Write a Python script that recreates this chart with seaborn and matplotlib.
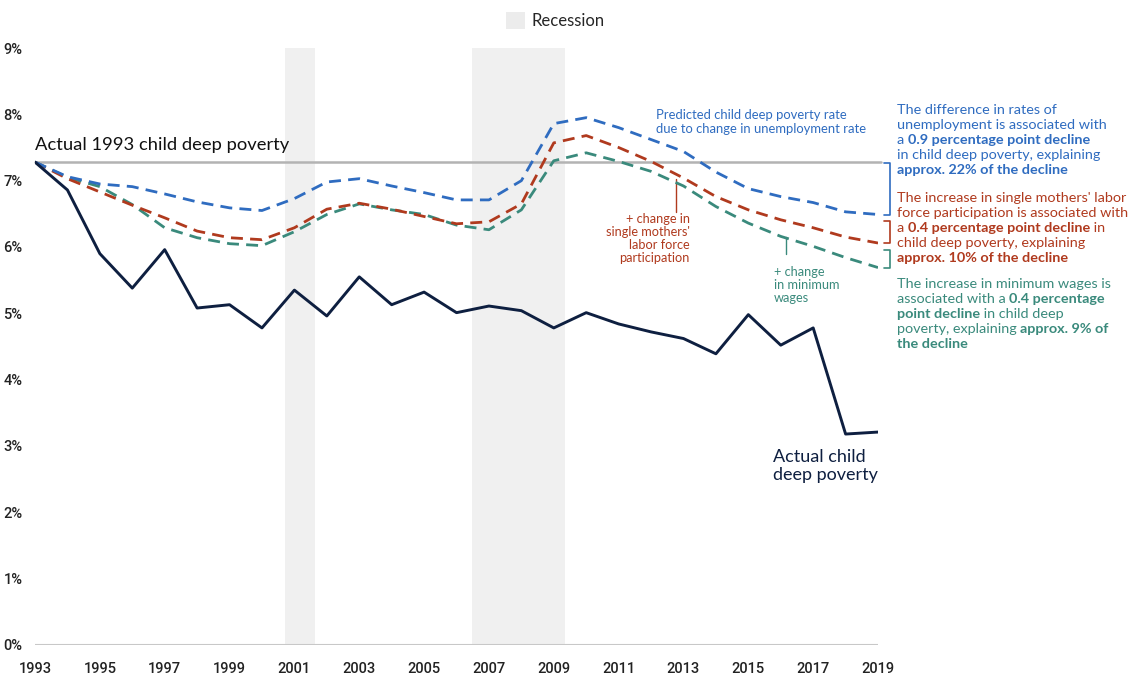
import matplotlib
matplotlib.use("Agg")
import matplotlib.pyplot as plt
import seaborn as sns
import pandas as pd
from matplotlib.patches import Patch
from matplotlib.offsetbox import TextArea, HPacker, VPacker, AnnotationBbox

years = list(range(1993, 2020))
actual = [7.28, 6.86, 5.90, 5.38, 5.96, 5.08, 5.13, 4.78, 5.35, 4.96, 5.55, 5.13, 5.32, 5.01,
          5.11, 5.04, 4.78, 5.01, 4.84, 4.72, 4.62, 4.39, 4.98, 4.52, 4.78, 3.18, 3.21]
unemp = [7.28, 7.06, 6.95, 6.91, 6.80, 6.68, 6.59, 6.55, 6.73, 6.98, 7.03, 6.92, 6.82, 6.71,
         6.71, 7.00, 7.86, 7.95, 7.80, 7.62, 7.44, 7.13, 6.88, 6.76, 6.67, 6.53, 6.49]
labor = [7.28, 7.03, 6.83, 6.63, 6.44, 6.24, 6.14, 6.11, 6.29, 6.57, 6.66, 6.57, 6.46, 6.35,
         6.38, 6.65, 7.57, 7.68, 7.50, 7.29, 7.04, 6.76, 6.56, 6.41, 6.29, 6.15, 6.06]
minwage = [7.28, 7.05, 6.91, 6.64, 6.29, 6.14, 6.05, 6.02, 6.23, 6.49, 6.65, 6.56, 6.49, 6.33,
           6.26, 6.56, 7.30, 7.42, 7.29, 7.14, 6.92, 6.61, 6.36, 6.16, 6.01, 5.84, 5.69]
baseline_1993 = 7.28
recessions = [(2000.72, 2001.64), (2006.49, 2009.36)]
xticks = list(range(1993, 2020, 2))
yticks = list(range(0, 10))

NAVY = "#0e1f40"
BLUE = "#2f6cc0"
RED = "#b03a1e"
GREEN = "#3a8a7c"
GRAY = "#b3b3b3"
SHADE = "#f0f0f0"

sns.set_theme(style="white")
plt.rcParams['font.family'] = ['Lato', 'DejaVu Sans']
TICKFONT = ['Roboto', 'DejaVu Sans']

fig = plt.figure(figsize=(11.4, 6.81), dpi=100)
ax = fig.add_axes([0.0307, 0.0529, 0.7395, 0.8766])

for a, b in recessions:
    ax.axvspan(a, b, color=SHADE, zorder=0, lw=0)

ax.axhline(baseline_1993, color=GRAY, lw=1.8, zorder=1, xmin=0, xmax=1.003, clip_on=False)
ax.axhline(0, color="#c8c8c8", lw=1.5, zorder=1)

df = pd.DataFrame({"year": years, "actual": actual, "unemp": unemp, "labor": labor, "minwage": minwage})
sns.lineplot(data=df, x="year", y="minwage", ax=ax, color=GREEN, lw=2, zorder=3)
sns.lineplot(data=df, x="year", y="labor", ax=ax, color=RED, lw=2, zorder=3)
sns.lineplot(data=df, x="year", y="unemp", ax=ax, color=BLUE, lw=2, zorder=3)
for ln in ax.lines[-3:]:
    ln.set_linestyle((0, (4.3, 2.6)))
sns.lineplot(data=df, x="year", y="actual", ax=ax, color=NAVY, lw=2.1, zorder=4)

ax.set_xlim(1993, 2019)
ax.set_ylim(0, 9)
ax.set_xticks(xticks)
ax.set_xticklabels([str(x) for x in xticks], family=TICKFONT, fontsize=10.5, color="#222222",
                   fontweight="medium")
ax.set_yticks(yticks)
ax.set_yticklabels([f"{y}%" for y in yticks], family=TICKFONT, fontsize=10.5, color="#222222",
                   fontweight="medium")
ax.tick_params(axis="x", length=0, pad=12)
ax.tick_params(axis="y", length=0, pad=9)
ax.set_xlabel("")
ax.set_ylabel("")
for s in ax.spines.values():
    s.set_visible(False)

# legend
fig.legend(handles=[Patch(facecolor="#ececec", edgecolor="none", label="Recession")],
           loc="upper center", bbox_to_anchor=(0.487, 1.004), frameon=False, fontsize=12,
           handlelength=1.15, handleheight=1.15, handletextpad=0.4)

ax.text(1993, 7.41, "Actual 1993 child deep poverty", fontsize=13.2, color="#111111",
        ha="left", va="bottom")
ax.text(2015.76, 2.95, "Actual child\ndeep poverty", fontsize=13, color=NAVY, ha="left", va="top",
        linespacing=1.12)
ax.text(2012.15, 8.08, "Predicted child deep poverty rate\ndue to change in unemployment rate",
        fontsize=9.4, color=BLUE, ha="left", va="top", linespacing=1.15)

# leader lines
ax.plot([2012.77, 2012.77], [7.02, 6.53], color=RED, lw=1, zorder=2)
ax.text(2013.2, 6.51, "+ change in\nsingle mothers'\nlabor force\nparticipation", fontsize=9.2,
        color=RED, ha="right", va="top", linespacing=1.1)
ax.plot([2016.15, 2016.15], [6.15, 5.9], color=GREEN, lw=1, zorder=2)
ax.text(2015.8, 5.72, "+ change\nin minimum\nwages", fontsize=9.2, color=GREEN, ha="left", va="top",
        linespacing=1.1)

# brackets
def bracket(y0, y1, x, color):
    ax.plot([x - 0.2, x, x, x - 0.2], [y0, y0, y1, y1], color=color, lw=1.2, clip_on=False)

bracket(7.26, 6.48, 2019.37, BLUE)
bracket(6.39, 6.06, 2019.37, RED)
bracket(5.95, 5.69, 2019.37, GREEN)

def rich_block(lines, color, xy):
    rows = []
    for segs in lines:
        tas = [TextArea(t, textprops=dict(color=color, fontsize=10.4,
                                          fontweight="bold" if b else "normal")) for t, b in segs]
        rows.append(HPacker(children=tas, align="baseline", pad=0, sep=0))
    box = VPacker(children=rows, align="left", pad=0, sep=2.2)
    ab = AnnotationBbox(box, xy, xycoords="figure pixels", box_alignment=(0, 1), frameon=False,
                        pad=0)
    fig.add_artist(ab)

rich_block([[("The difference in rates of", False)],
            [("unemployment is associated with", False)],
            [("a ", False), ("0.9 percentage point decline", True)],
            [("in child deep poverty, explaining", False)],
            [("approx. 22% of the decline", True)]], BLUE, (897, 681 - 104))
rich_block([[("The increase in single mothers' labor", False)],
            [("force participation is associated with", False)],
            [("a ", False), ("0.4 percentage point decline", True), (" in", False)],
            [("child deep poverty, explaining", False)],
            [("approx. 10% of the decline", True)]], RED, (897, 681 - 192))
rich_block([[("The increase in minimum wages is", False)],
            [("associated with a ", False), ("0.4 percentage", True)],
            [("point decline", True), (" in child deep", False)],
            [("poverty, explaining ", False), ("approx. 9% of", True)],
            [("the decline", True)]], GREEN, (897, 681 - 278))

fig.savefig("out.png", dpi=100)
